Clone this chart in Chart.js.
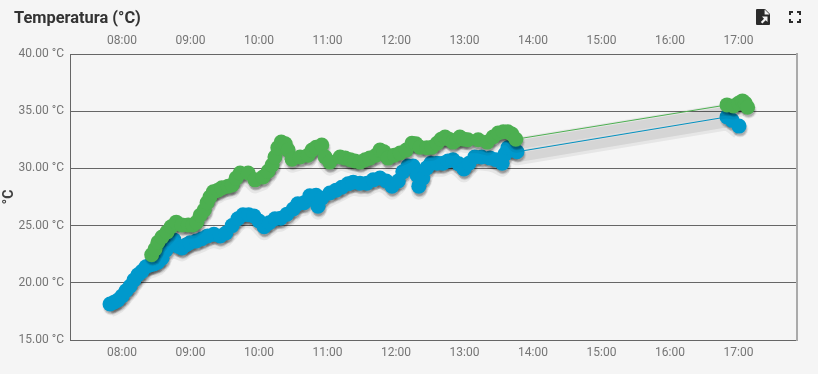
<!DOCTYPE html>
<html><head><meta charset="utf-8">
<script src="https://cdn.jsdelivr.net/npm/chart.js@4"></script>
<style>
html,body{margin:0;padding:0;background:#f5f5f5;width:818px;height:374px;overflow:hidden}
#t{position:absolute;left:14px;top:8px;font:700 16.4px Roboto,sans-serif;color:#333333;line-height:19px}
canvas{position:absolute;left:0;top:0}
svg{position:absolute}
</style></head><body>
<canvas id="c" width="818" height="374"></canvas>
<div id="t">Temperatura (°C)</div>
<svg style="left:755px;top:8px" width="16" height="18" viewBox="0 0 16 18"><path fill="#2b2b2b" d="M2 1h8l5 5v10a1 1 0 0 1-1 1H2a1 1 0 0 1-1-1V2a1 1 0 0 1 1-1z"/><path fill="#f5f5f5" d="M9.6 1.5v5h5zM7 8.5h5.5V14l-1.8-1.7-3.3 3.2-1.6-1.6 3.2-3.2z"/></svg>
<svg style="left:788px;top:10px" width="14" height="14" viewBox="0 0 14 14"><path fill="none" stroke="#2b2b2b" stroke-width="2" d="M2 5V2h3M9 2h3v3M12 9v3H9M5 12H2V9"/></svg>
<script>
const blueMinutes=[469.5,473,476.5,480,483.5,487,490.5,494,497.5,501,504.5,508,511.5,515,518.5,522,525.5,529,532.5,536,539.5,545,550,555,560.5,566,571,576.5,581.5,586,591,595.5,600,604.5,609,614,619,624.5,630,634,639.5,644.5,650,651.7,655,662,667.5,672.5,678,682.5,688.5,694.5,700,706,711.5,716.5,722,726,730.5,735,738.5,740,743.5,747,750.5,756,761,765.5,770,775,779.5,784,789,795,802.5,807.5,813,815.5,818,822.5,826,1010,1014.5,1020.5];
const blueTemps=[18.15,18.3,18.5,18.85,19.3,19.7,20.25,20.7,21.0,21.4,21.55,21.65,21.8,22.15,22.85,23.5,23.75,23.2,23.05,23.3,23.5,23.65,23.85,24.1,24.25,24.1,24.35,25.0,25.6,25.95,25.95,25.85,25.4,24.9,25.25,25.6,25.65,26.0,26.45,26.9,27.0,27.6,27.65,26.7,27.4,27.85,28.1,28.35,28.65,28.8,28.7,28.7,29.0,29.15,28.9,28.45,28.9,29.7,30.2,30.2,29.4,28.45,29.15,30.05,30.45,30.45,30.45,30.65,30.75,30.4,29.95,30.45,31.0,31.0,30.9,30.75,30.45,31.25,31.8,31.6,31.45,34.5,34.2,33.7];
const greenMinutes=[506,509,511.5,515,519.5,523,527.5,532.5,538,542,545.5,548.5,552,554.5,557,560,564,567.5,573,576.5,580,583.5,590.5,596.5,603.5,608,611.5,614,616.5,619.5,623,625.5,629,636,643,646.5,650,655,658,662,671,675.5,680,684,688.5,693,697,702.5,706,709.5,713,718.5,723.5,729,734,737.5,741,747,751.5,756,759.5,763,766.5,770,773.5,776,779.5,783,792,800,805,809.5,814,818,821.5,825,1010,1015.5,1020,1023.5,1026,1028];
const greenTemps=[22.45,22.95,23.55,24.0,24.45,24.9,25.3,25.05,25.05,25.05,25.3,25.9,26.35,27.0,27.5,27.95,28.1,28.3,28.45,28.55,29.15,29.6,29.6,29.0,29.25,29.75,30.3,31.0,31.8,32.3,32.15,31.6,30.8,31.0,31.15,31.6,31.85,32.05,31.0,30.55,31.0,30.9,30.75,30.65,30.55,30.75,30.9,31.15,31.6,31.45,30.9,31.15,31.35,31.6,32.2,32.15,31.85,31.8,31.85,32.2,32.55,32.75,32.55,32.3,32.5,32.75,32.55,32.5,32.5,32.3,32.75,33.1,33.2,33.2,33.0,32.55,35.55,35.45,35.7,35.9,35.7,35.35];
const hourTicks=[480,540,600,660,720,780,840,900,960,1020];
const tempTicks=[15,20,25,30,35,40];
const pairs=(xs,ys)=>xs.map((x,i)=>({x,y:ys[i]}));
const BLUE='#0099cc',GREEN='#4caf50',TXT='#757575',LINE='#666666';
const fmtTime=v=>String(Math.floor(v/60)).padStart(2,'0')+':00';
const shadow={id:'shadow',beforeDatasetDraw(chart,args){
  const pts=chart.getDatasetMeta(args.index).data, c=chart.ctx;
  c.save();
  const a=chart.chartArea;c.beginPath();c.rect(a.left,a.top,a.right-a.left,a.bottom-a.top);c.clip();
  c.lineJoin='round';c.lineCap='butt';
  c.save();c.translate(0,6);
  [[15,.06],[9,.08]].forEach(([w,al])=>{
    c.beginPath();pts.forEach((p,i)=>i?c.lineTo(p.x,p.y):c.moveTo(p.x,p.y));
    c.lineWidth=w;c.strokeStyle='rgba(0,0,0,'+al+')';c.stroke();});
  c.restore();
  c.translate(1,3);
  pts.forEach(p=>{[[8.5,.05],[7.5,.13],[6.5,.14]].forEach(([r,al])=>{
    c.beginPath();c.arc(p.x,p.y,r,0,Math.PI*2);c.fillStyle='rgba(0,0,0,'+al+')';c.fill();});});
  c.restore();
}};
const xScale=(position,h)=>({type:'linear',position,min:434.45,max:1071.3,
  afterBuildTicks:s=>{s.ticks=hourTicks.map(value=>({value}));},
  afterFit:s=>{s.height=h;},
  grid:{display:false,drawTicks:false},
  border:{display:true,color:LINE,width:1},
  ticks:{autoSkip:false,maxRotation:0,color:TXT,padding:6,font:{family:'Roboto',size:12},callback:fmtTime}});
new Chart(document.getElementById('c'),{
  type:'line',
  data:{datasets:[
    {data:pairs(greenMinutes,greenTemps),borderColor:GREEN,backgroundColor:GREEN,borderWidth:1,pointRadius:7.5,pointBorderWidth:0,order:1,xAxisID:'x',yAxisID:'y'},
    {data:pairs(blueMinutes,blueTemps),borderColor:BLUE,backgroundColor:BLUE,borderWidth:1,pointRadius:7.5,pointBorderWidth:0,order:2,xAxisID:'x',yAxisID:'y'}
  ]},
  options:{responsive:false,animation:false,events:[],
    layout:{padding:0},
    plugins:{legend:{display:false},tooltip:{enabled:false},title:{display:false}},
    scales:{
      x:xScale('bottom',34),
      x2:xScale('top',54),
      y:{type:'linear',position:'left',min:15,max:40,
        afterBuildTicks:s=>{s.ticks=tempTicks.map(value=>({value}));},
        afterFit:s=>{s.width=70;},
        grid:{color:LINE,lineWidth:1,drawTicks:false},
        border:{display:true,color:LINE,width:1},
        title:{display:true,text:'°C',color:'#424242',padding:{top:1,bottom:0},font:{family:'Roboto',size:14,weight:'bold'}},
        ticks:{color:TXT,padding:6,font:{family:'Roboto',size:12},callback:v=>v.toFixed(2)+' °C'}},
      yr:{type:'linear',position:'right',min:15,max:40,
        afterFit:s=>{s.width=21;},
        grid:{display:false,drawTicks:false},
        border:{display:true,color:'#aaaaaa',width:2},
        ticks:{display:false}}
    }},
  plugins:[shadow]
});
</script>
</body></html>
